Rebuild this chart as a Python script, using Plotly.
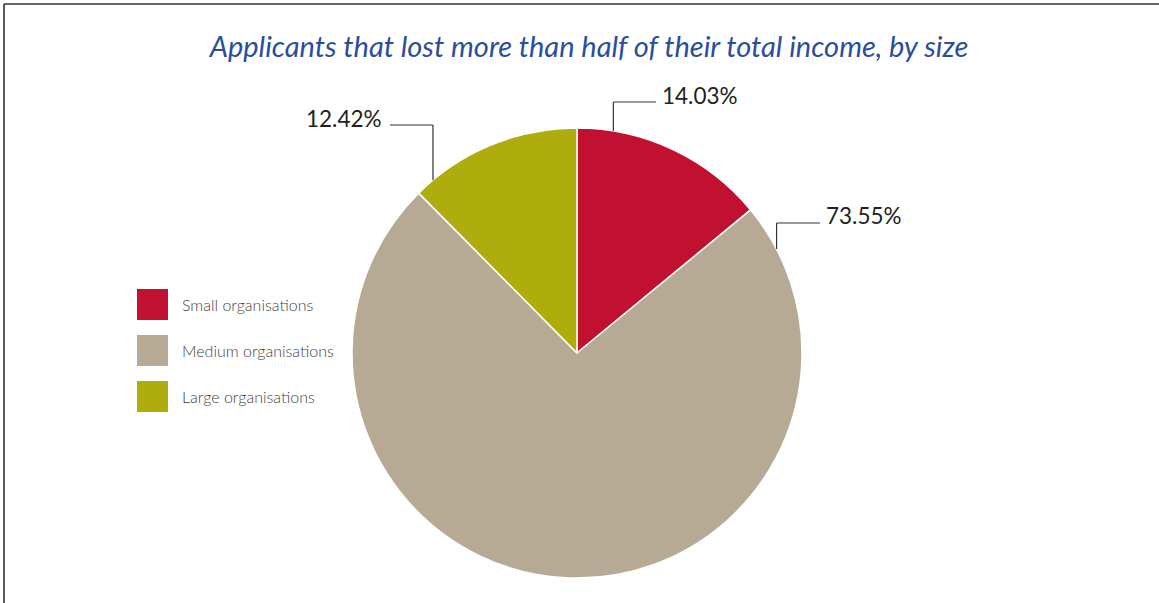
import math
import plotly.graph_objects as go

# Share of applicants that lost more than half of their total income, by organisation size
categories = ["Small organisations", "Medium organisations", "Large organisations"]
shares = [14.03, 73.55, 12.42]
colors = ["#C21030", "#B7AA94", "#AFAD0E"]
value_labels = ["14.03%", "73.55%", "12.42%"]

W, H = 1159, 603

# pie geometry in pixels
cx, cy, r = 577, 353, 225
dom_x = [(cx - r) / W, (cx + r) / W]
dom_y = [1 - (cy + r) / H, 1 - (cy - r) / H]

fig = go.Figure(
    go.Pie(
        labels=categories,
        values=shares,
        sort=False,
        direction="clockwise",
        rotation=0,
        marker=dict(colors=colors, line=dict(color="white", width=1.5)),
        textinfo="none",
        hoverinfo="label+percent",
        showlegend=False,
        domain=dict(x=dom_x, y=dom_y),
    )
)


def px(x):
    return x / W


def py(y):
    return 1 - y / H


shapes = []
annotations = []

# leader lines: anchor angle on the rim (deg clockwise from 12 o'clock),
# elbow height, horizontal end and text side
leaders = [
    dict(angle=9.3, elbow_y=102, end_x=656, side="right"),
    dict(angle=62.5, elbow_y=223, end_x=820, side="right"),
    dict(angle=-39.8, elbow_y=125, end_x=390, side="left"),
]
line_style = dict(color="#333333", width=1.2)
for lab, ld in zip(value_labels, leaders):
    a = math.radians(ld["angle"])
    ax = cx + r * math.sin(a)
    ay = cy - r * math.cos(a)
    shapes.append(dict(type="line", xref="paper", yref="paper",
                       x0=px(ax), y0=py(ay), x1=px(ax), y1=py(ld["elbow_y"]),
                       line=line_style))
    shapes.append(dict(type="line", xref="paper", yref="paper",
                       x0=px(ax), y0=py(ld["elbow_y"]), x1=px(ld["end_x"]), y1=py(ld["elbow_y"]),
                       line=line_style))
    if ld["side"] == "right":
        tx, anchor = ld["end_x"] + 4, "left"
    else:
        tx, anchor = ld["end_x"] - 6, "right"
    annotations.append(dict(text=lab, xref="paper", yref="paper",
                            x=px(tx), y=py(ld["elbow_y"] - 7),
                            xanchor=anchor, yanchor="middle", showarrow=False,
                            font=dict(family="Lato", size=22.5, color="#231F20")))

# legend: coloured squares with category names
leg_x, leg_y0, leg_step, sq = 137, 289, 46, 31
for i, (cat, col) in enumerate(zip(categories, colors)):
    top = leg_y0 + i * leg_step
    shapes.append(dict(type="rect", xref="paper", yref="paper",
                       x0=px(leg_x), x1=px(leg_x + sq), y0=py(top + sq), y1=py(top),
                       fillcolor=col, line=dict(width=0)))
    annotations.append(dict(text=cat, xref="paper", yref="paper",
                            x=px(leg_x + sq + 12), y=py(top + sq / 2),
                            xanchor="left", yanchor="middle", showarrow=False,
                            font=dict(family="Lato", size=16, color="#3F3F3F", weight=300)))

# frame lines along the top and left edges
frame = dict(color="#333333", width=1.6)
shapes.append(dict(type="line", xref="paper", yref="paper",
                   x0=px(4), y0=py(4), x1=1, y1=py(4), line=frame))
shapes.append(dict(type="line", xref="paper", yref="paper",
                   x0=px(4), y0=py(4), x1=px(4), y1=0, line=frame))

fig.update_layout(
    width=W,
    height=H,
    margin=dict(l=0, r=0, t=0, b=0),
    paper_bgcolor="white",
    plot_bgcolor="white",
    title=dict(
        text="Applicants that lost more than half of their total income, by size",
        x=px(589), xanchor="center",
        y=py(47), yanchor="middle",
        font=dict(family="Lato", size=29, color="#2A4E9C", style="italic"),
    ),
    shapes=shapes,
    annotations=annotations,
)

fig.write_html("out.html")
